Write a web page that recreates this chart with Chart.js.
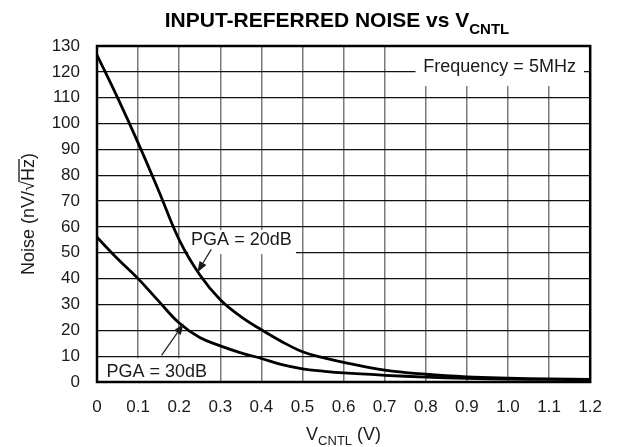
<!DOCTYPE html>
<html>
<head>
<meta charset="utf-8">
<script src="https://cdn.jsdelivr.net/npm/chart.js@4.4.1/dist/chart.umd.min.js"></script>
<style>
  html, body { margin: 0; padding: 0; background: #fff; }
  #wrap { width: 617px; height: 447px; position: relative; }
</style>
</head>
<body>
<div id="wrap"><canvas id="chart" width="617" height="447"></canvas></div>
<script>
// Control voltage (V) and input-referred noise (nV/rtHz)
const vcntl = [0, 0.05, 0.1, 0.15, 0.2, 0.25, 0.3, 0.35, 0.4, 0.45, 0.5, 0.55, 0.6, 0.7, 0.8, 0.9, 1.0, 1.1, 1.2];
const noisePga20 = [126.5, 110, 92.5, 74, 55, 41.5, 31.8, 25.3, 20.2, 15.6, 11.7, 9.4, 7.6, 4.6, 3, 2, 1.5, 1.2, 1.0];
const noisePga30 = [56, 47.7, 40, 31.3, 22.8, 17.2, 14, 11.3, 9.1, 6.7, 5.1, 4.2, 3.5, 2.6, 1.9, 1.4, 1.1, 1.0, 0.9];
const xTickLabels = ['0', '0.1', '0.2', '0.3', '0.4', '0.5', '0.6', '0.7', '0.8', '0.9', '1.0', '1.1', '1.2'];
const yTicks = [0, 10, 20, 30, 40, 50, 60, 70, 80, 90, 100, 110, 120, 130];

const FONT = "'Liberation Sans', Arial, Helvetica, sans-serif";
const INK = '#1a1a1a';

const toPoints = (xs, ys) => xs.map((x, i) => ({ x, y: ys[i] }));

// draws a string made of [text, isSub] runs, centred on cx, baseline at by
function drawRuns(ctx, runs, cx, by, size, weight, subDrop) {
  const subSize = Math.round(size * 0.72);
  let total = 0;
  runs.forEach(([t, sub]) => {
    ctx.font = `${weight} ${sub ? subSize : size}px ${FONT}`;
    total += ctx.measureText(t).width;
  });
  let x = cx - total / 2;
  ctx.textBaseline = 'alphabetic';
  ctx.textAlign = 'left';
  runs.forEach(([t, sub]) => {
    ctx.font = `${weight} ${sub ? subSize : size}px ${FONT}`;
    ctx.fillText(t, x, sub ? by + size * subDrop : by);
    x += ctx.measureText(t).width;
  });
}

function arrow(ctx, x1, y1, x2, y2) {
  const ang = Math.atan2(y2 - y1, x2 - x1);
  const hl = 11, hw = 4;
  ctx.beginPath();
  ctx.moveTo(x1, y1);
  ctx.lineTo(x2 - hl * Math.cos(ang), y2 - hl * Math.sin(ang));
  ctx.lineWidth = 1.2;
  ctx.stroke();
  ctx.beginPath();
  ctx.moveTo(x2, y2);
  ctx.lineTo(x2 - hl * Math.cos(ang) + hw * Math.sin(ang), y2 - hl * Math.sin(ang) - hw * Math.cos(ang));
  ctx.lineTo(x2 - hl * Math.cos(ang) - hw * Math.sin(ang), y2 - hl * Math.sin(ang) + hw * Math.cos(ang));
  ctx.closePath();
  ctx.fill();
}

// labels placed in data units (x, baseline y, white box)
const labels = [
  { text: 'Frequency = 5MHz', x: 0.794, y: 119.9, box: [0.775, 130, 1.185, 114.5] },
  { text: 'PGA = 20dB', x: 0.229, y: 52.9, box: [0.222, 58.8, 0.484, 49.5] },
  { text: 'PGA = 30dB', x: 0.023, y: 2.0, box: [0.008, 9.2, 0.28, 0] },
];
const arrows = [
  { from: [0.278, 51.3], to: [0.244, 42.4] },
  { from: [0.157, 10.3], to: [0.211, 22.6] },
];

const decor = {
  id: 'decor',
  beforeDatasetsDraw(chart) {
    const { ctx, scales: { x, y } } = chart;
    ctx.save();
    ctx.fillStyle = '#fff';
    labels.forEach(l => {
      const [x1, y1, x2, y2] = l.box;
      ctx.fillRect(x.getPixelForValue(x1), y.getPixelForValue(y1),
        x.getPixelForValue(x2) - x.getPixelForValue(x1), y.getPixelForValue(y2) - y.getPixelForValue(y1));
    });
    ctx.restore();
  },
  afterDraw(chart) {
    const { ctx, chartArea: a, scales: { x, y } } = chart;
    ctx.save();
    ctx.fillStyle = INK;
    ctx.strokeStyle = INK;

    // labels + arrows
    ctx.font = `18px ${FONT}`;
    ctx.textAlign = 'left';
    ctx.textBaseline = 'alphabetic';
    labels.forEach(l => ctx.fillText(l.text, x.getPixelForValue(l.x), y.getPixelForValue(l.y)));
    arrows.forEach(ar => arrow(ctx,
      x.getPixelForValue(ar.from[0]), y.getPixelForValue(ar.from[1]),
      x.getPixelForValue(ar.to[0]), y.getPixelForValue(ar.to[1])));

    // frame
    ctx.lineWidth = 2.5;
    ctx.strokeStyle = '#000';
    ctx.strokeRect(a.left, a.top, a.right - a.left, a.bottom - a.top);

    // title
    ctx.fillStyle = '#000';
    drawRuns(ctx, [['INPUT-REFERRED NOISE vs V', false], ['CNTL', true]], 337, 27, 21, 'bold', 0.32);

    // x axis title
    ctx.fillStyle = INK;
    drawRuns(ctx, [['V', false], ['CNTL', true], [' (V)', false]], (a.left + a.right) / 2, 440, 18, 'normal', 0.25);

    // y axis title with radical overline over Hz
    ctx.translate(29, (a.top + a.bottom) / 2);
    ctx.rotate(-Math.PI / 2);
    ctx.font = `18px ${FONT}`;
    const pre = 'Noise (nV/\u221A', hz = 'Hz', post = ')';
    const wPre = ctx.measureText(pre).width, wHz = ctx.measureText(hz).width, wPost = ctx.measureText(post).width;
    let sx = -(wPre + wHz + wPost) / 2;
    ctx.textBaseline = 'middle';
    ctx.fillText(pre, sx, 0);
    ctx.fillText(hz, sx + wPre, 0);
    ctx.fillText(post, sx + wPre + wHz, 0);
    ctx.lineWidth = 1.2;
    ctx.beginPath();
    ctx.moveTo(sx + wPre - 1, -10);
    ctx.lineTo(sx + wPre + wHz, -10);
    ctx.stroke();
    ctx.restore();
  }
};

new Chart(document.getElementById('chart'), {
  type: 'line',
  data: {
    datasets: [
      { label: 'PGA = 20dB', data: toPoints(vcntl, noisePga20) },
      { label: 'PGA = 30dB', data: toPoints(vcntl, noisePga30) },
    ].map(d => ({
      ...d,
      borderColor: '#000',
      borderWidth: 2.8,
      pointRadius: 0,
      fill: false,
      tension: 0.4,
    })),
  },
  options: {
    responsive: false,
    animation: false,
    events: [],
    layout: { padding: { top: 46, right: 24, left: 0, bottom: 0 } },
    plugins: { legend: { display: false }, tooltip: { enabled: false }, title: { display: false } },
    scales: {
      x: {
        type: 'linear',
        min: 0,
        max: 1.2,
        afterFit: (s) => { s.height = 65; },
        afterBuildTicks: (s) => { s.ticks = xTickLabels.map((_, i) => ({ value: i / 10 })); },
        ticks: {
          padding: 15,
          color: INK,
          font: { family: FONT, size: 17 },
          maxRotation: 0,
          autoSkip: false,
          callback: (v) => xTickLabels[Math.round(v * 10)],
        },
        grid: { color: '#7a7a7a', lineWidth: 1.5, drawTicks: false },
        border: { display: false },
      },
      y: {
        min: 0,
        max: 130,
        afterFit: (s) => { s.width = 97; },
        afterBuildTicks: (s) => { s.ticks = yTicks.map(v => ({ value: v })); },
        ticks: {
          padding: 17,
          color: INK,
          font: { family: FONT, size: 17 },
          autoSkip: false,
        },
        grid: { color: '#111', lineWidth: 1.2, drawTicks: false },
        border: { display: false },
      },
    },
  },
  plugins: [decor],
});
</script>
</body>
</html>
